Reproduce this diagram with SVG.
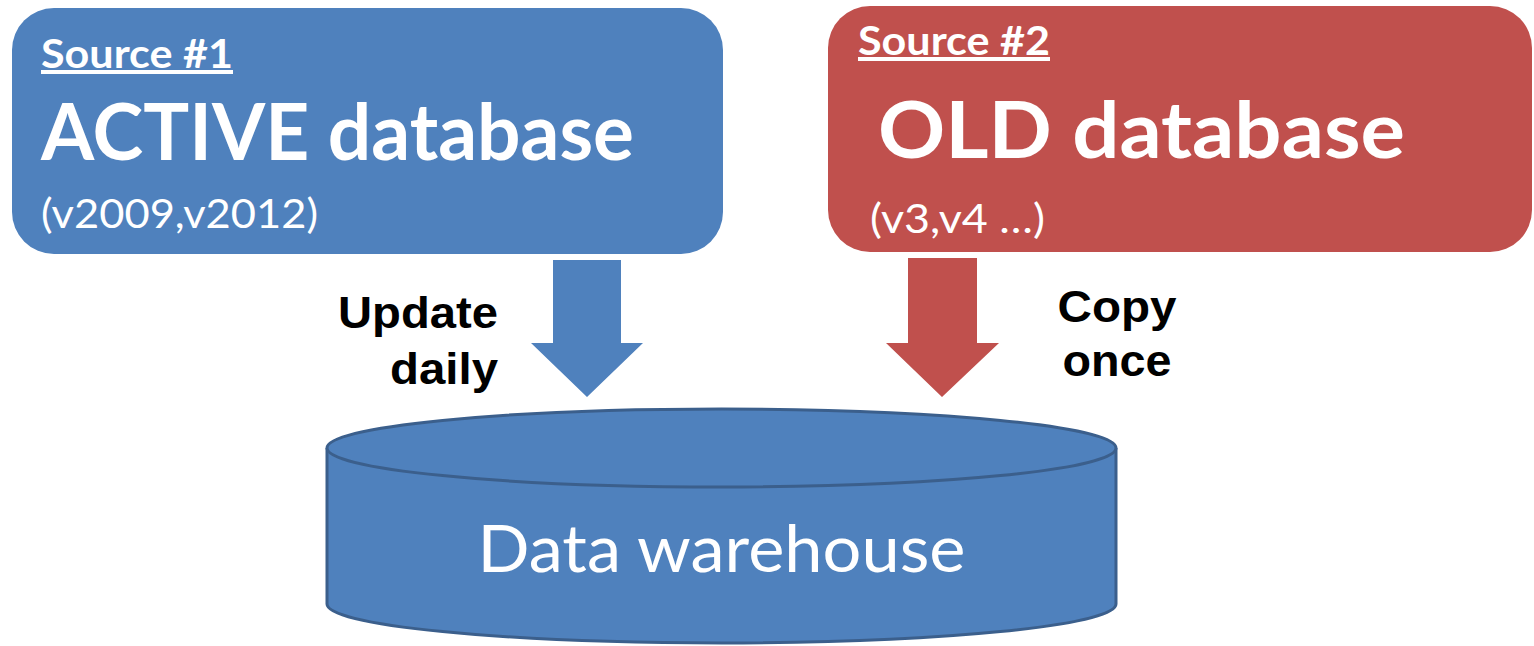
<svg xmlns="http://www.w3.org/2000/svg" width="1534" height="646" viewBox="0 0 1534 646">
<style>
.w{fill:#fff;font-family:Lato,"Open Sans",sans-serif}
.b{font-weight:bold}
.k{fill:#000;font-family:"Liberation Sans",Arial,sans-serif;font-weight:bold;font-size:45px}
</style>
<rect width="1534" height="646" fill="#fff"/>
<g id="source1">
<rect x="12" y="8" width="711" height="246" rx="42" fill="#4F81BD"/>
<text class="w b" x="41" y="68" font-size="40" text-decoration="underline" textLength="192" lengthAdjust="spacingAndGlyphs">Source #1</text>
<text class="w b" x="41" y="160" font-size="78" textLength="593" lengthAdjust="spacingAndGlyphs">ACTIVE database</text>
<text class="w" x="41" y="228" font-size="40" textLength="277" lengthAdjust="spacingAndGlyphs">(v2009,v2012)</text>
</g>
<g id="source2">
<rect x="828" y="6" width="704" height="246" rx="42" fill="#C0504D"/>
<text class="w b" x="858" y="55" font-size="40" text-decoration="underline" textLength="192" lengthAdjust="spacingAndGlyphs">Source #2</text>
<text class="w b" x="878" y="158" font-size="78" textLength="527" lengthAdjust="spacingAndGlyphs">OLD database</text>
<text class="w" x="870" y="233" font-size="40" textLength="175" lengthAdjust="spacingAndGlyphs">(v3,v4 …)</text>
</g>
<g id="warehouse">
<path d="M327,448 L327,604 A394.5,39 0 0 0 1116,604 L1116,448" fill="#4F81BD" stroke="#3B5F8C" stroke-width="3"/>
<ellipse cx="721.5" cy="448" rx="394.5" ry="39" fill="#4F81BD" stroke="#3B5F8C" stroke-width="3"/>
<text class="w" x="721.5" y="572" font-size="66" text-anchor="middle" textLength="488" lengthAdjust="spacingAndGlyphs">Data warehouse</text>
</g>
<g id="connectors">
<polygon points="553,260 621,260 621,343 643,343 587,397 531,343 553,343" fill="#4F81BD"/>
<polygon points="908,258 977,258 977,343 999,343 942,397 886,343 908,343" fill="#C0504D"/>
<text class="k" x="498" y="328" text-anchor="end" textLength="160" lengthAdjust="spacingAndGlyphs">Update</text>
<text class="k" x="498" y="384" text-anchor="end" textLength="108" lengthAdjust="spacingAndGlyphs">daily</text>
<text class="k" x="1117" y="322" text-anchor="middle" textLength="119" lengthAdjust="spacingAndGlyphs">Copy</text>
<text class="k" x="1117" y="376" text-anchor="middle" textLength="109" lengthAdjust="spacingAndGlyphs">once</text>
</g>
</svg>
